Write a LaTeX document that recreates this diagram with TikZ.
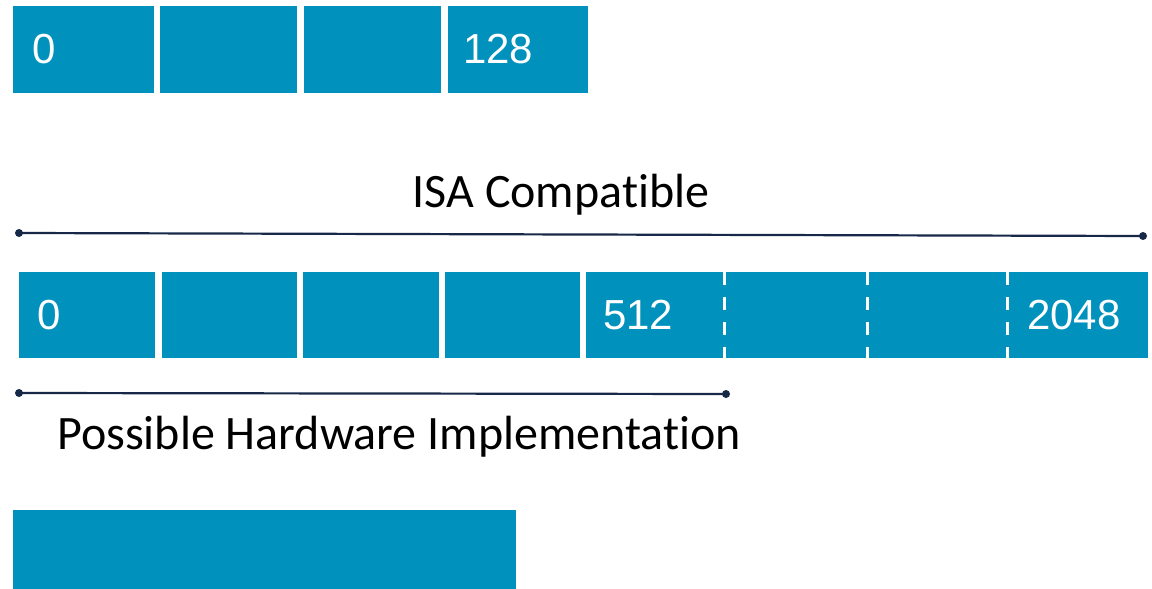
\documentclass[tikz,border=0pt]{standalone}
\usepackage{fontspec}
\setmainfont[Ligatures=NoCommon]{Carlito}
\newfontfamily\cellfont{Liberation Sans}
\definecolor{cellblue}{RGB}{0,146,189}
\definecolor{navy}{RGB}{24,40,72}
\begin{document}
\begin{tikzpicture}[x=1pt,y=-1pt,
  cell/.style={fill=cellblue,draw=none,inner sep=0pt,outer sep=0pt,anchor=north west},
  num/.style={text=white,font=\cellfont\fontsize{42}{42}\selectfont,inner sep=0pt,anchor=west},
  caption/.style={text=black,font=\fontsize{48}{48}\selectfont,inner sep=0pt,anchor=base},
  span/.style={draw=navy,line width=2.2pt},
  dot/.style={circle,fill=navy,inner sep=0pt,minimum size=8pt},
  split/.style={draw=white,line width=3pt,dash pattern=on 13pt off 12pt}]
\useasboundingbox (0,0) rectangle (1152,589);

% 128-bit register: four lanes
\node[cell,minimum width=141pt,minimum height=87pt] (t1) at (13,6) {};
\node[cell,minimum width=137pt,minimum height=87pt] (t2) at (160,6) {};
\node[cell,minimum width=137pt,minimum height=87pt] (t3) at (304,6) {};
\node[cell,minimum width=140pt,minimum height=87pt] (t4) at (448,6) {};
\node[num] at ([xshift=19pt]t1.west) {0};
\node[num] at ([xshift=15pt]t4.west) {128};

% ISA-compatible span
\node[caption] (isa) at (561,207) {ISA Compatible};
\node[dot] (isaL) at (19,233) {};
\node[dot] (isaR) at (1143,236) {};
\draw[span] (isaL.center) -- (isaR.center);

% 2048-bit register
\node[cell,minimum width=136pt,minimum height=86pt] (c1) at (19,272) {};
\node[cell,minimum width=135pt,minimum height=86pt] (c2) at (162,272) {};
\node[cell,minimum width=136pt,minimum height=86pt] (c3) at (303,272) {};
\node[cell,minimum width=135pt,minimum height=86pt] (c4) at (445,272) {};
\node[cell,minimum width=138pt,minimum height=86pt] (c5) at (586,272) {};
\node[cell,minimum width=143pt,minimum height=86pt] (c6) at (724,272) {};
\node[cell,minimum width=140pt,minimum height=86pt] (c7) at (867,272) {};
\node[cell,minimum width=141pt,minimum height=86pt] (c8) at (1007,272) {};
\draw[split] (c5.north east) -- (c5.south east);
\draw[split] (c6.north east) -- (c6.south east);
\draw[split] (c7.north east) -- (c7.south east);
\node[num] at ([xshift=18pt]c1.west) {0};
\node[num] at ([xshift=17pt]c5.west) {512};
\node[num] at ([xshift=20pt]c8.west) {2048};

% hardware span
\node[dot] (hwL) at (19,393) {};
\node[dot] (hwR) at (726,394) {};
\draw[span] (hwL.center) -- (hwR.center);
\node[caption] (hw) at (399,449) {Possible Hardware Implementation};

% hardware register
\node[cell,minimum width=503pt,minimum height=79pt] (hwreg) at (13,510) {};
\end{tikzpicture}
\end{document}
